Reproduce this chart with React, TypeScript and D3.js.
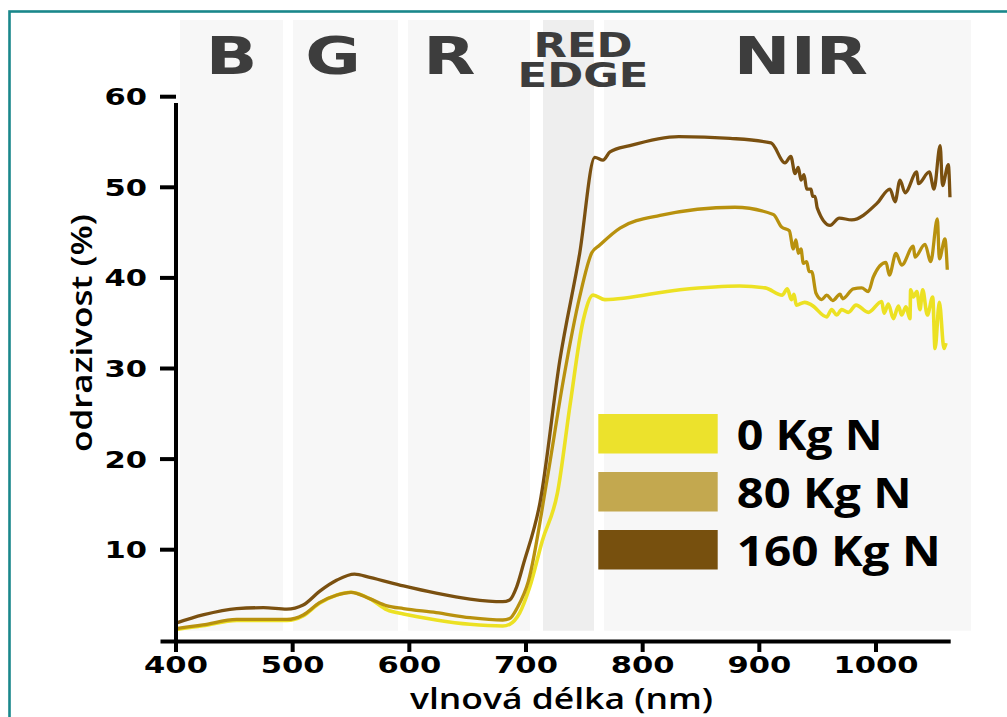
import React from "react";
import * as d3 from "d3";

const W = 1007;
const H = 717;

// wavelength (nm), reflectance (%)
const series0: [number, number][] = [
  [400, 1.2], [423, 1.6], [452, 2.2], [475, 2.2], [495, 2.2], [509, 2.7], [523, 4.1], [538, 5.0],
  [550, 5.3], [566, 4.6], [581, 3.35], [595, 2.9], [623, 2.25], [652, 1.77], [680, 1.58], [686, 1.77],
  [694.5, 3.0], [703, 5.8], [714, 11.0], [727, 16.3], [738, 26.2], [749, 35.3], [757.5, 38.1], [767.7, 37.6],
  [832, 38.7], [883, 39.1], [905, 38.9], [919.7, 38.1], [924, 38.8], [927.5, 37.6], [929.7, 38.2],
  [931.7, 37.0], [938.9, 37.3], [944.9, 37.0], [957.7, 35.7], [962, 36.5], [966.3, 35.9], [970.6, 36.5],
  [976.3, 36.2], [982.9, 37.0], [993.4, 36.2], [1004.9, 37.4], [1006.9, 36.1], [1010.6, 37.1],
  [1014.9, 35.5], [1019.2, 36.9], [1022, 35.9], [1025.7, 36.8], [1029.1, 35.5], [1029.7, 38.7],
  [1032, 37.9], [1035, 38.5], [1037.7, 36.5], [1040, 38.7], [1044, 35.9], [1048.6, 37.9],
  [1050.6, 32.2], [1054.3, 37.3], [1058.3, 32.2], [1060, 32.8],
];

const series80: [number, number][] = [
  [400, 1.3], [423, 1.7], [452, 2.3], [475, 2.3], [495, 2.3], [509, 2.8], [523, 4.15], [538, 5.0],
  [550, 5.3], [566, 4.6], [581, 3.8], [595, 3.5], [623, 3.05], [652, 2.5], [680, 2.24], [686, 2.4],
  [693, 3.7], [702, 6.5], [718, 17.7], [732, 28.7], [746, 37.9], [756.5, 42.8], [763, 43.6],
  [780.6, 45.5], [815, 46.9], [879, 47.8], [912, 47.0], [919.2, 45.6], [925.7, 45.2], [929.1, 43.2],
  [931.4, 44.2], [933.4, 42.7], [935.7, 43.2], [937.7, 41.6], [940.6, 41.8], [942.6, 40.7],
  [944.9, 40.7], [948.6, 38.3], [953.5, 37.6], [957.7, 38.1], [962.9, 37.5], [969.2, 38.2],
  [971.4, 37.7], [980.6, 38.8], [987.7, 38.9], [993.4, 38.5], [997.7, 40.1], [1008.6, 41.7],
  [1011.4, 40.3], [1017.1, 42.7], [1022, 41.4], [1032, 43.5], [1033.4, 42.3], [1042, 43.7],
  [1046.9, 41.8], [1052.6, 46.5], [1054.3, 42.1], [1059.1, 44.3], [1061.1, 40.9],
];

const series160: [number, number][] = [
  [400, 1.9], [423, 2.8], [452, 3.5], [475, 3.6], [495, 3.45], [509, 3.9], [523, 5.4], [538, 6.65],
  [553, 7.3], [566, 6.95], [595, 6.0], [623, 5.2], [652, 4.55], [680, 4.26], [686, 4.45], [692, 5.9],
  [698, 8.5], [712, 15.2], [729, 30.9], [746, 42.7], [759, 53.3], [766, 53.0], [772, 53.9],
  [789, 54.6], [831, 55.6], [875, 55.4], [910, 54.9], [922, 52.7], [927, 53.4], [930.6, 51.5],
  [933.4, 52.2], [935.7, 50.8], [938.3, 51.4], [940.6, 49.8], [944.3, 49.8], [945.7, 49.0],
  [947.7, 49.0], [949.7, 47.7], [960.6, 45.8], [968.5, 46.6], [979.2, 46.4], [1000.6, 48.2],
  [1012, 49.8], [1016.3, 48.4], [1020.6, 50.8], [1024.9, 49.4], [1035, 51.7], [1036.3, 50.4],
  [1045.7, 51.7], [1049.7, 49.8], [1055, 54.6], [1057, 50.2], [1062, 52.5], [1063.4, 48.9],
];

const seriesNames = ["0 Kg N", "80 Kg N", "160 Kg N"];
const lineColors = ["#ece123", "#b8910e", "#7a5010"];
const legendColors = ["#ece22c", "#c3a84f", "#77500e"];

const bandNames = ["B", "G", "R", "RED EDGE", "NIR"];
const bandStart = [403.4, 500.3, 598.9, 714.6, 766.9];
const bandEnd = [491.7, 590.3, 703.4, 758.3, 1081.4];
const bandLabelAt = [447.6, 534.6, 634.2, 748.9, 935.7];

const xTicks = [400, 500, 600, 700, 800, 900, 1000];
const yTicks = [10, 20, 30, 40, 50, 60];

export default function App() {
  const x = d3.scaleLinear().domain([400, 1000]).range([176, 876]);
  const y = d3.scaleLinear().domain([0, 60]).range([640.3, 96.7]);
  const line = d3
    .line<[number, number]>()
    .x((d) => x(d[0]))
    .y((d) => y(d[1]))
    .curve(d3.curveMonotoneX);

  const all = [series0, series80, series160];
  const tickFont = "'DejaVu Sans', sans-serif";
  const sx = 1.33;

  return (
    <svg
      width={W}
      height={H}
      viewBox={`0 0 ${W} ${H}`}
      style={{ position: "absolute", left: 0, top: 0, background: "#fff" }}
    >
      <rect x={0} y={0} width={W} height={H} fill="#ffffff" />
      <rect x={9.5} y={11.5} width={W + 20} height={H + 20} fill="none" stroke="#1a878b" strokeWidth={2.6} />

      {bandNames.map((b, i) => (
        <rect
          key={b}
          x={x(bandStart[i])}
          y={20}
          width={x(bandEnd[i]) - x(bandStart[i])}
          height={610.7}
          fill={b === "RED EDGE" ? "#eeeeee" : "#f7f7f7"}
        />
      ))}

      {bandNames.map((b, i) => {
        const cx = x(bandLabelAt[i]);
        if (b === "RED EDGE") {
          const [l1, l2] = b.split(" ");
          return (
            <text
              key={b}
              transform={`translate(${cx},57) scale(1.4,1.06)`}
              fill="#3d3d3d"
              fontFamily={tickFont}
              fontWeight="bold"
              fontSize={31}
              textAnchor="middle"
            >
              <tspan x={0} y={0}>{l1}</tspan>
              <tspan x={0} y={28.3}>{l2}</tspan>
            </text>
          );
        }
        return (
          <text
            key={b}
            transform={`translate(${cx},74) scale(${sx},1)`}
            fill="#3d3d3d"
            fontFamily={tickFont}
            fontWeight="bold"
            fontSize={51}
            textAnchor="middle"
          >
            {b}
          </text>
        );
      })}

      {all.map((s, i) => (
        <path key={i} d={line(s) || ""} fill="none" stroke={lineColors[i]} strokeWidth={i === 0 ? 3.6 : 3.3} strokeLinejoin="round" />
      ))}

      {/* axes */}
      <line x1={176} x2={176} y1={103} y2={642} stroke="#000" strokeWidth={4} />
      <line x1={160.5} x2={950.7} y1={641.5} y2={641.5} stroke="#000" strokeWidth={4.2} />
      {yTicks.map((t) => (
        <g key={t}>
          <line x1={160} x2={176} y1={y(t)} y2={y(t)} stroke="#000" strokeWidth={4} />
          <text
            transform={`translate(147,${y(t) + 8.4}) scale(${sx},1)`}
            fontFamily={tickFont}
            fontWeight="bold"
            fontSize={23}
            textAnchor="end"
            fill="#000"
          >
            {t}
          </text>
        </g>
      ))}
      {xTicks.map((t) => (
        <g key={t}>
          <line x1={x(t)} x2={x(t)} y1={640} y2={652} stroke="#000" strokeWidth={4} />
          <text
            transform={`translate(${x(t)},673) scale(${sx},1)`}
            fontFamily={tickFont}
            fontWeight="bold"
            fontSize={23}
            textAnchor="middle"
            fill="#000"
          >
            {t}
          </text>
        </g>
      ))}

      <text
        x={410}
        y={708.5}
        fontFamily="'Open Sans', sans-serif"
        fontWeight={600}
        fontSize={28}
        textLength={303}
        lengthAdjust="spacingAndGlyphs"
        fill="#000"
      >
        vlnová délka (nm)
      </text>
      <text
        transform="translate(92,452) rotate(-90)"
        fontFamily="'Open Sans', sans-serif"
        fontWeight={600}
        fontSize={29}
        textLength={238}
        lengthAdjust="spacingAndGlyphs"
        fill="#000"
      >
        odrazivost (%)
      </text>

      {/* legend */}
      {seriesNames.map((n, i) => {
        const tl = [146, 175, 204][i];
        return (
          <g key={n}>
            <rect x={598.3} y={414 + i * 58} width={119.4} height={39.5} fill={legendColors[i]} />
            <text
              x={736.7}
              y={450 + i * 57.8}
              fontFamily="'Open Sans', sans-serif"
              fontWeight={700}
              fontSize={42}
              textLength={tl}
              lengthAdjust="spacingAndGlyphs"
              fill="#000"
            >
              {n}
            </text>
          </g>
        );
      })}
    </svg>
  );
}
